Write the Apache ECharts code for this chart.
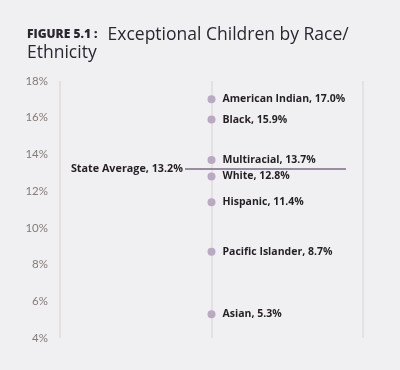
<!DOCTYPE html>
<html><head><meta charset="utf-8">
<script src="https://cdn.jsdelivr.net/npm/echarts@6/dist/echarts.min.js"></script>
<style>html,body{margin:0;padding:0;background:#f0f0f2;}#c{width:400px;height:370px;}</style>
</head><body><div id="c"></div>
<script>
const groups = ['American Indian','Black','Multiracial','White','Hispanic','Pacific Islander','Asian'];
const rates = [17.0, 15.9, 13.7, 12.8, 11.4, 8.7, 5.3];
const stateAverage = 13.2;
const stateLabel = 'State Average';
const yTicks = [4, 6, 8, 10, 12, 14, 16, 18];

const chart = echarts.init(document.getElementById('c'));
const FONT = 'Lato, "Open Sans", sans-serif';
const BOLD = '"Open Sans", Lato, sans-serif';
chart.setOption({
  backgroundColor: '#f0f0f2',
  title: {
    left: 22, top: 21,
    text: '{a|FIGURE 5.1 :}{b|Exceptional Children by Race/}\n{b|Ethnicity}',
    textStyle: {
      rich: {
        a: {fontFamily: BOLD, fontWeight: 800, fontSize: 12, color: '#2b2730', lineHeight: 18, padding: [0, 10, 0, 0]},
        b: {fontFamily: BOLD, fontWeight: 500, fontSize: 17.5, color: '#2b2730', lineHeight: 18}
      }
    }
  },
  grid: {left: 60, right: 37, top: 81, bottom: 32},
  xAxis: {
    type: 'value', min: 0, max: 2, interval: 1,
    axisLine: {show: false}, axisTick: {show: false}, axisLabel: {show: false},
    splitLine: {show: true, lineStyle: {color: '#e0dcda', width: 1.5}}
  },
  yAxis: {
    type: 'value', min: yTicks[0], max: yTicks[yTicks.length-1], interval: 2,
    axisLine: {show: false}, axisTick: {show: false}, splitLine: {show: false},
    axisLabel: {margin: 12, color: '#857a76', fontSize: 11.5, fontFamily: FONT, formatter: v => v + '%'}
  },
  series: [{
    type: 'scatter',
    symbolSize: 8,
    itemStyle: {color: '#b9a9c3', opacity: 1},
    data: groups.map((g, i) => ({name: g, value: [1, rates[i]]})),
    label: {
      show: true, position: 'right', distance: 7,
      formatter: p => p.name + ', ' + p.value[1].toFixed(1) + '%',
      fontFamily: BOLD, fontWeight: 'bold', fontSize: 10.5, color: '#231f24'
    },
    markLine: {
      silent: true, symbol: 'none',
      lineStyle: {color: '#7d6c89', width: 1.5, type: 'solid'},
      label: {
        show: true, position: 'start', distance: 2,
        formatter: stateLabel + ', ' + stateAverage.toFixed(1) + '%',
        fontFamily: BOLD, fontWeight: 'bold', fontSize: 10.8, color: '#231f24'
      },
      data: [[{coord: [0.825, stateAverage]}, {coord: [1.888, stateAverage]}]]
    }
  }]
});
</script></body></html>
